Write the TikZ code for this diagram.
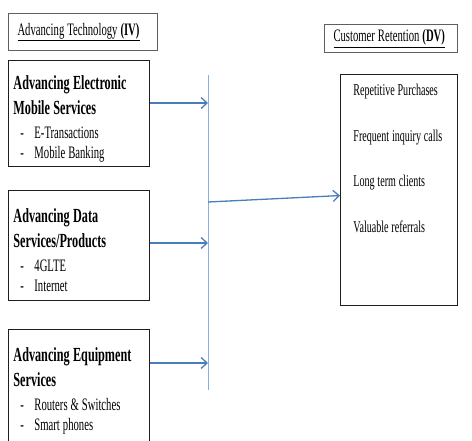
\documentclass[tikz,border=0pt]{standalone}
\usepackage{fontspec}
\setmainfont{Liberation Serif}[FakeStretch=0.61]
\usepackage{tikz}
\usetikzlibrary{arrows.meta, positioning, calc}
\definecolor{myblue}{RGB}{74,126,187}
\definecolor{mylightblue}{RGB}{140,175,215}
\definecolor{mygray}{RGB}{95,95,95}
\definecolor{mydark}{RGB}{30,30,30}
\newcommand{\tightsp}{\spaceskip=0.17em plus 0.05em\relax}
\newcommand{\blocktitle}[1]{{\fontsize{20}{25}\selectfont\bfseries\tightsp #1\par}\vspace{4pt}}
\newcommand{\blockitem}[1]{{\fontsize{17.5}{20}\selectfont\tightsp\hspace*{7pt}\makebox[14pt][l]{-}#1\par}}
\newcommand{\blockend}{\vspace*{-10pt}\nointerlineskip\hbox{}}
\newcommand{\dvitem}[1]{{\tightsp\hspace*{13pt}#1\par}}
\tikzset{
  hdrbox/.style={rectangle, draw=mygray, line width=1pt, anchor=north west,
    align=left, inner xsep=9pt, inner ysep=0pt,
    font=\fontsize{17.5}{20}\selectfont},
  block/.style={rectangle, draw=mydark, line width=0.9pt, anchor=north west,
    text width=131pt, align=left, inner xsep=5pt, inner ysep=0pt},
  dvblock/.style={rectangle, draw=mydark, line width=0.9pt, anchor=north west,
    text width=117pt, align=left, inner xsep=0pt, inner ysep=10pt,
    font=\fontsize{16.5}{45.5}\selectfont},
  arrow/.style={-{Straight Barb[length=6pt, width=11pt]}, line width=1.3pt, color=myblue},
  busline/.style={line width=0.9pt, color=mylightblue}
}
\begin{document}
\begin{tikzpicture}[x=1pt, y=1pt]
  \useasboundingbox (0,0) rectangle (472,-440);
  % headers
  \node[hdrbox, text width=131pt, minimum height=37pt] (ivhead) at (8,-13)
    {\tightsp\underline{Advancing Technology \textbf{(IV)}}};
  \node[hdrbox, text width=115pt, minimum height=28pt] (dvhead) at (324,-24)
    {\tightsp\underline{Customer Retention \textbf{(DV)}}};
  % independent variables
  \node[block, minimum height=106pt] (elec) at (8,-60)
    {\blocktitle{Advancing Electronic\\Mobile Services}%
     \blockitem{E-Transactions}\blockitem{Mobile Banking}\blockend};
  \node[block, minimum height=110pt] (data) at (8,-190)
    {\blocktitle{Advancing Data\\Services/Products}%
     \blockitem{4GLTE}\blockitem{Internet}\blockend};
  \node[block, minimum height=112pt] (equip) at (8,-329)
    {\blocktitle{Advancing Equipment\\Services}%
     \blockitem{Routers \& Switches}\blockitem{Smart phones}\blockend};
  % dependent variable
  \node[dvblock] (dv) at (340,-74)
    {\dvitem{Repetitive Purchases}\dvitem{Frequent inquiry calls}%
     \dvitem{Long term clients}\dvitem{Valuable referrals}%
     \vspace*{63pt}\nointerlineskip\hbox{}};
  % bus line and arrows
  \coordinate (bustop) at (208,-75);
  \coordinate (busbot) at (208,-390);
  \coordinate (j1) at (208,-103);
  \coordinate (j2) at (208,-243);
  \coordinate (j3) at (208,-363);
  \coordinate (jout) at (208,-202);
  \draw[busline] (bustop) -- (busbot);
  \draw[arrow] (elec.east |- j1) -- (j1);
  \draw[arrow] (data.east |- j2) -- (j2);
  \draw[arrow] (equip.east |- j3) -- (j3);
  \draw[arrow] (jout) -- ([yshift=-5.5pt]dv.west);
\end{tikzpicture}
\end{document}
